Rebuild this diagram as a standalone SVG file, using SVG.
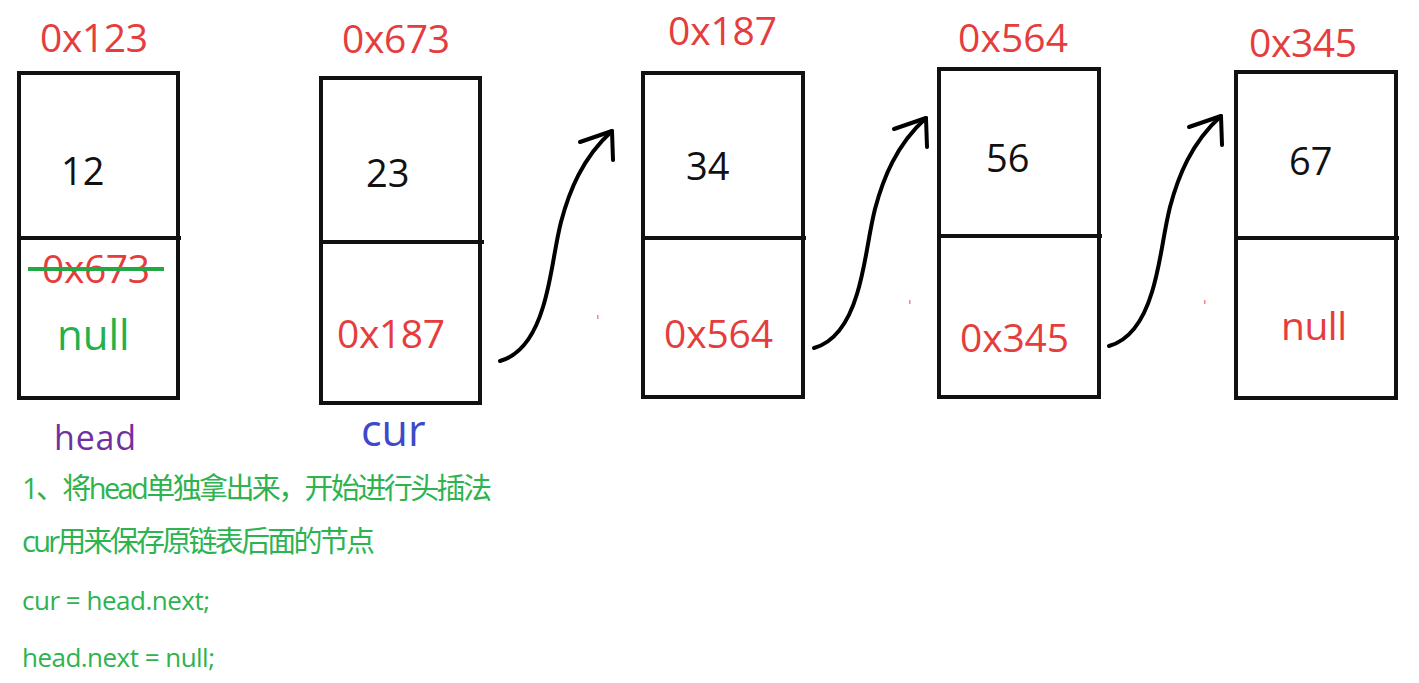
<svg xmlns="http://www.w3.org/2000/svg" width="1419" height="683" viewBox="0 0 1419 683">
<style>
.box{fill:#fff;stroke:#111;stroke-width:4}
.div{stroke:#111;stroke-width:4}
text{font-family:"Open Sans","Noto Sans CJK SC",sans-serif}
.addr{fill:#e53d3d;font-size:39px}
.val{fill:#111;font-size:38px}
.note{fill:#2db34f;font-size:29px}
.code{fill:#2db34f;font-size:26px}
.arr{fill:none;stroke:#000;stroke-width:4;stroke-linecap:round;stroke-linejoin:round}
</style>
<rect width="1419" height="683" fill="#fff"/>
<g id="node1">
<rect class="box" x="19" y="73" width="159" height="325"/>
<line class="div" x1="19" y1="238" x2="181" y2="238"/>
<text class="addr" x="40" y="52" textLength="108">0x123</text>
<text class="val" x="61" y="185">12</text>
<text class="addr" x="42" y="283" textLength="108">0x673</text>
<line x1="28" y1="269" x2="164" y2="269" stroke="#22a845" stroke-width="4"/>
<text x="57" y="350" fill="#22b14c" font-size="42">null</text>
<text x="54" y="450" fill="#7030a0" font-size="34" textLength="82">head</text>
</g>
<g id="node2">
<rect class="box" x="321" y="78" width="159" height="325"/>
<line class="div" x1="321" y1="242" x2="484" y2="242"/>
<text class="addr" x="342" y="53" textLength="108">0x673</text>
<text class="val" x="366" y="187">23</text>
<text class="addr" x="337" y="348" textLength="108">0x187</text>
<text x="361" y="446" fill="#3f48cc" font-size="43">cur</text>
</g>
<g id="node3">
<rect class="box" x="643" y="73" width="160" height="324"/>
<line class="div" x1="643" y1="238" x2="806" y2="238"/>
<text class="addr" x="668" y="45" textLength="109">0x187</text>
<text class="val" x="686" y="180">34</text>
<text class="addr" x="664" y="348" textLength="109">0x564</text>
</g>
<g id="node4">
<rect class="box" x="939" y="69" width="160" height="328"/>
<line class="div" x1="939" y1="236" x2="1102" y2="236"/>
<text class="addr" x="958" y="52" textLength="110">0x564</text>
<text class="val" x="986" y="172">56</text>
<text class="addr" x="960" y="352" textLength="109">0x345</text>
</g>
<g id="node5">
<rect class="box" x="1236" y="72" width="160" height="326"/>
<line class="div" x1="1236" y1="238" x2="1399" y2="238"/>
<text class="addr" x="1249" y="57" textLength="108">0x345</text>
<text class="val" x="1289" y="175">67</text>
<text class="addr" x="1281" y="340" textLength="66">null</text>
</g>
<g id="connectors">
<g id="a1">
<path class="arr" d="M500,361 C518,356 533,340 543,307 C552,278 554,250 561,222 C569,192 582,158 612,131"/>
<path class="arr" d="M580,142 L612,131 L613,160"/>
</g>
<g id="a2" transform="translate(314,-13)">
<path class="arr" d="M500,361 C518,356 533,340 543,307 C552,278 554,250 561,222 C569,192 582,158 612,131"/>
<path class="arr" d="M580,142 L612,131 L613,160"/>
</g>
<g id="a3" transform="translate(609,-15)">
<path class="arr" d="M500,361 C518,356 533,340 543,307 C552,278 554,250 561,222 C569,192 582,158 612,131"/>
<path class="arr" d="M580,142 L612,131 L613,160"/>
</g>
</g>
<g fill="#e88">
<rect x="597" y="315" width="1.5" height="4"/>
<rect x="909" y="300" width="1.5" height="4"/>
<rect x="1204" y="300" width="1.5" height="4"/>
</g>
<g id="notes">
<text class="note" x="22" y="499" textLength="470">1、将head单独拿出来，开始进行头插法</text>
<text class="note" x="22" y="552" textLength="353">cur用来保存原链表后面的节点</text>
<text class="code" x="22" y="610" textLength="188">cur = head.next;</text>
<text class="code" x="22" y="667" textLength="193">head.next = null;</text>
</g>
</svg>
